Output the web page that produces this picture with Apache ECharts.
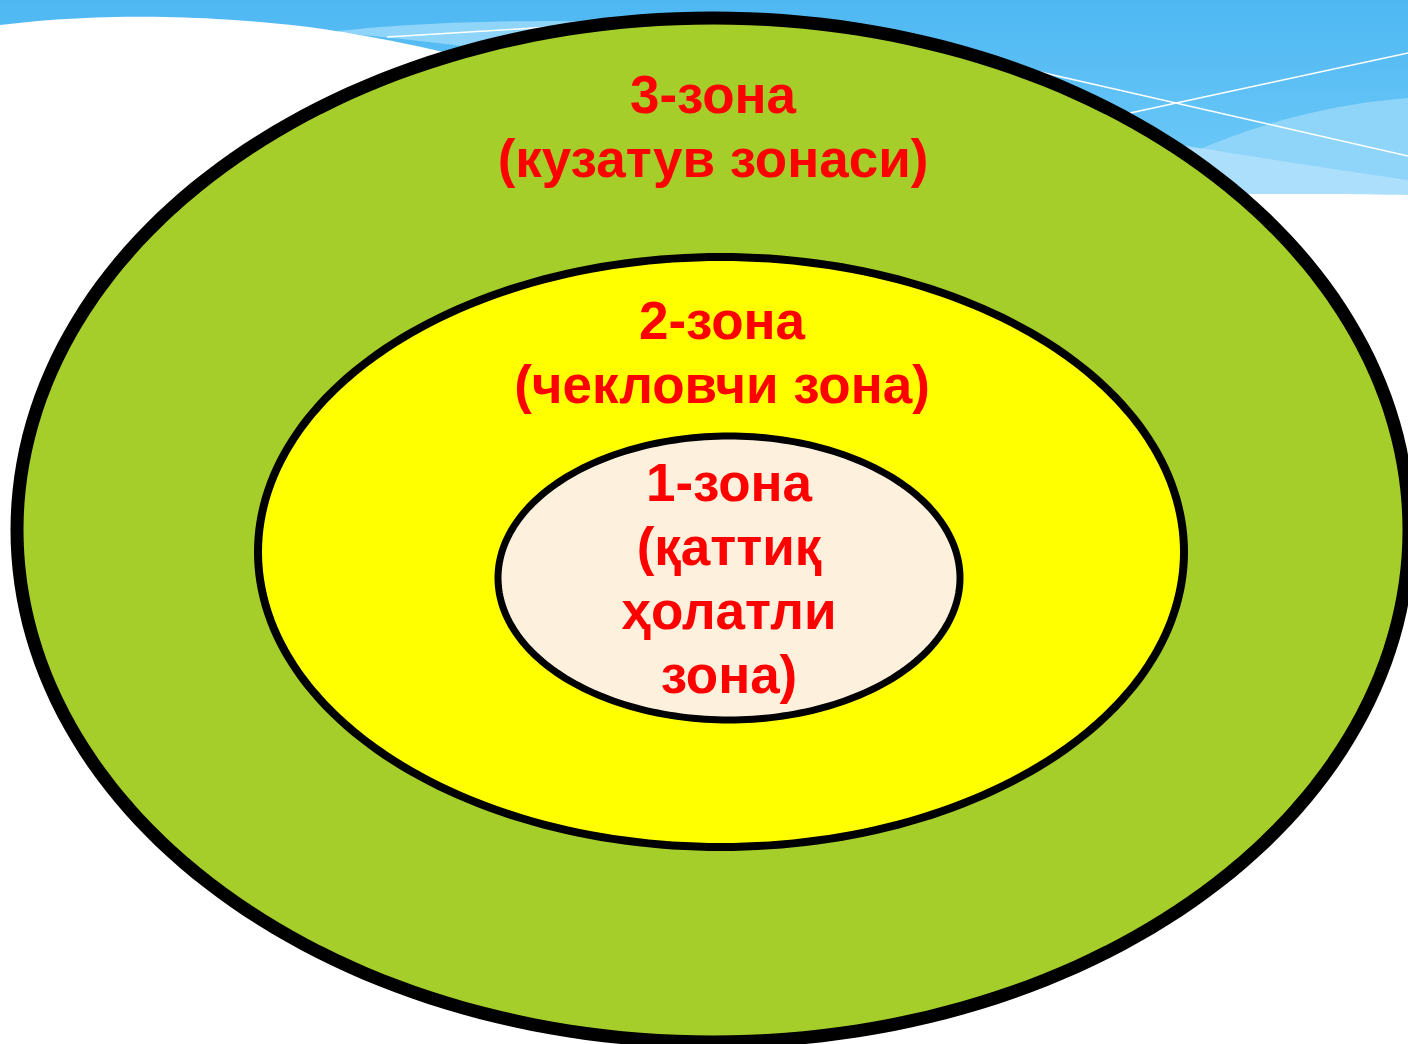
<!DOCTYPE html>
<html>
<head>
    <meta charset="utf-8">
    <title>Зоналар</title>
    <script type="text/javascript" src="https://cdn.jsdelivr.net/npm/echarts@6/dist/echarts.min.js"></script>
    <style>
        html, body { margin: 0; padding: 0; background: #fff; }
    </style>
</head>
<body>
<div id="container" style="width: 1408px; height: 1044px"></div>
<script type="text/javascript">
    // zones, outer first
    var zoneTitles = ['3-зона', '2-зона', '1-зона'];
    var zoneNotes = ['(кузатув зонаси)', '(чекловчи зона)', '(қаттиқ\nҳолатли\nзона)'];
    var centerX = [713, 721, 729];
    var centerY = [530, 552, 578];
    var radiusX = [696, 463, 231];
    var radiusY = [512, 295, 142];
    var labelX = [713, 722, 729];
    var labelY = [130, 356, 582];
    var zoneColors = ['#A6CE2A', '#FFFF00', '#FDF0DC'];
    var borderWidth = [13, 8, 7];

    var dom = document.getElementById('container');
    var myChart = echarts.init(dom, null, {renderer: 'canvas'});

    var zoneData = [];
    for (var i = 0; i < zoneTitles.length; i++) {
        zoneData.push([centerX[i], centerY[i], radiusX[i], radiusY[i], labelX[i], labelY[i], i]);
    }

    // background swoosh helper: quadratic curves sampled into polygon points
    function quad(p0, p1, p2) {
        var out = [];
        for (var k = 0; k <= 30; k++) {
            var t = k / 30, u = 1 - t;
            out.push([u * u * p0[0] + 2 * u * t * p1[0] + t * t * p2[0],
                      u * u * p0[1] + 2 * u * t * p1[1] + t * t * p2[1]]);
        }
        return out;
    }

    function renderZone(params, api) {
        var cx = api.value(0), cy = api.value(1);
        var rx = api.value(2), ry = api.value(3);
        var idx = api.value(6);
        var pts = [];
        for (var k = 0; k < 240; k++) {
            var t = k / 240 * Math.PI * 2;
            pts.push(api.coord([cx + rx * Math.cos(t), cy + ry * Math.sin(t)]));
        }
        var lp = api.coord([api.value(4), api.value(5)]);
        return {
            type: 'group',
            children: [
                {
                    type: 'polygon',
                    shape: {points: pts},
                    style: {fill: zoneColors[idx], stroke: '#000', lineWidth: borderWidth[idx]}
                },
                {
                    type: 'text',
                    x: lp[0],
                    y: lp[1],
                    z2: 10,
                    style: {
                        text: zoneTitles[idx] + '\n' + zoneNotes[idx],
                        fill: '#FF0000',
                        font: 'bold 53px "Liberation Sans", Arial, sans-serif',
                        lineHeight: 64,
                        align: 'center',
                        verticalAlign: 'middle'
                    }
                }
            ]
        };
    }

    var bandRight1 = quad([1100, 200], [1250, 110], [1408, 98]).concat([[1408, 200]]);
    var bandRight2 = quad([1120, 135], [1270, 160], [1408, 180]).concat([[1408, 200], [1120, 200]]);
    var whiteRight = quad([1100, 197], [1250, 192], [1408, 195]).concat([[1408, 400], [1100, 400]]);
    var bandLeft = quad([330, 32], [450, 18], [620, 22]).concat(quad([620, 70], [480, 45], [330, 32]));
    var whiteLeft = quad([0, 25], [140, 8], [300, 26]).concat(quad([300, 26], [430, 42], [600, 95]), [[600, 400], [0, 400]]);

    var option = {
        backgroundColor: '#ffffff',
        animation: false,
        graphic: [
            {
                type: 'rect', z: -10, silent: true,
                shape: {x: 0, y: 0, width: 1408, height: 200},
                style: {
                    fill: new echarts.graphic.LinearGradient(0, 0, 0, 1, [
                        {offset: 0, color: '#4EB7F2'},
                        {offset: 1, color: '#72CCF9'}
                    ])
                }
            },
            {type: 'polygon', z: -9, silent: true, shape: {points: bandRight1}, style: {fill: '#8FD5FA'}},
            {type: 'polygon', z: -9, silent: true, shape: {points: bandRight2}, style: {fill: '#ABDFFC'}},
            {type: 'polygon', z: -8, silent: true, shape: {points: whiteRight}, style: {fill: '#ffffff'}},
            {type: 'polygon', z: -9, silent: true, shape: {points: bandLeft}, style: {fill: '#8FD5FA'}},
            {type: 'polygon', z: -8, silent: true, shape: {points: whiteLeft}, style: {fill: '#ffffff'}},
            {
                type: 'line', z: -7, silent: true,
                shape: {x1: 387, y1: 37, x2: 600, y2: 24},
                style: {stroke: '#ffffff', lineWidth: 1.5}
            },
            {
                type: 'line', z: -7, silent: true,
                shape: {x1: 1040, y1: 72, x2: 1408, y2: 156},
                style: {stroke: '#ffffff', lineWidth: 1.5}
            },
            {
                type: 'line', z: -7, silent: true,
                shape: {x1: 1130, y1: 113, x2: 1408, y2: 53},
                style: {stroke: '#ffffff', lineWidth: 1.5}
            }
        ],
        grid: {left: 0, right: 0, top: 0, bottom: 0},
        xAxis: {type: 'value', min: 0, max: 1408, show: false},
        yAxis: {type: 'value', min: 0, max: 1044, inverse: true, show: false},
        series: [
            {
                type: 'custom',
                coordinateSystem: 'cartesian2d',
                clip: false,
                renderItem: renderZone,
                data: zoneData
            }
        ]
    };

    myChart.setOption(option);
    window.addEventListener('resize', myChart.resize);
</script>
</body>
</html>
